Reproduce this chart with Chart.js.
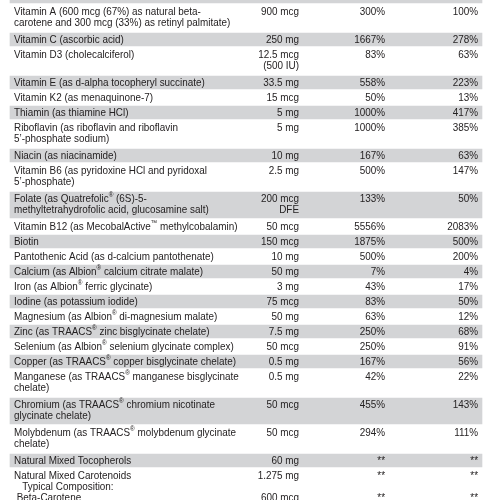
<!DOCTYPE html>
<html>
<head>
<meta charset="utf-8">
<script src="https://cdn.jsdelivr.net/npm/chart.js@4/dist/chart.umd.min.js"></script>
<style>
  html, body { margin: 0; padding: 0; background: #fff; }
  #wrap { width: 500px; height: 500px; position: relative; }
</style>
</head>
<body>
<div id="wrap"><canvas id="facts"></canvas></div>
<script>
// rows of the supplement facts panel (first row = header, cut off at the top)
const nutrients = [
  '',
  'Vitamin A (600 mcg (67%) as natural beta-\ncarotene and 300 mcg (33%) as retinyl palmitate)',
  'Vitamin C (ascorbic acid)',
  'Vitamin D3 (cholecalciferol)',
  'Vitamin E (as d-alpha tocopheryl succinate)',
  'Vitamin K2 (as menaquinone-7)',
  'Thiamin (as thiamine HCl)',
  'Riboflavin (as riboflavin and riboflavin\n5’-phosphate sodium)',
  'Niacin (as niacinamide)',
  'Vitamin B6 (as pyridoxine HCl and pyridoxal\n5’-phosphate)',
  'Folate (as Quatrefolic® (6S)-5-\nmethyltetrahydrofolic acid, glucosamine salt)',
  'Vitamin B12 (as MecobalActive™ methylcobalamin)',
  'Biotin',
  'Pantothenic Acid (as d-calcium pantothenate)',
  'Calcium (as Albion® calcium citrate malate)',
  'Iron (as Albion® ferric glycinate)',
  'Iodine (as potassium iodide)',
  'Magnesium (as Albion® di-magnesium malate)',
  'Zinc (as TRAACS® zinc bisglycinate chelate)',
  'Selenium (as Albion® selenium glycinate complex)',
  'Copper (as TRAACS® copper bisglycinate chelate)',
  'Manganese (as TRAACS® manganese bisglycinate\nchelate)',
  'Chromium (as TRAACS® chromium nicotinate\nglycinate chelate)',
  'Molybdenum (as TRAACS® molybdenum glycinate\nchelate)',
  'Natural Mixed Tocopherols',
  'Natural Mixed Carotenoids\n   Typical Composition:\n Beta-Carotene'
];
const amounts = [
  '', '900 mcg', '250 mg', '12.5 mcg\n(500 IU)', '33.5 mg', '15 mcg', '5 mg', '5 mg',
  '10 mg', '2.5 mg', '200 mcg\nDFE', '50 mcg', '150 mcg', '10 mg', '50 mg', '3 mg',
  '75 mcg', '50 mg', '7.5 mg', '50 mcg', '0.5 mg', '0.5 mg', '50 mcg', '50 mcg',
  '60 mg', '1.275 mg\n\n600 mcg'
];
const dvAdults = [
  '', '300%', '1667%', '83%', '558%', '50%', '1000%', '1000%',
  '167%', '500%', '133%', '5556%', '1875%', '500%', '7%', '43%',
  '83%', '63%', '250%', '250%', '167%', '42%', '455%', '294%',
  '**', '**\n\n**'
];
const dvChildren = [
  '', '100%', '278%', '63%', '223%', '13%', '417%', '385%',
  '63%', '147%', '50%', '2083%', '500%', '200%', '4%', '17%',
  '50%', '12%', '68%', '91%', '56%', '22%', '143%', '111%',
  '**', '**\n\n**'
];

const LINE = 13, PAD = 2;          // row height per text line + padding
const TEXT_FIRST = 7.5, TEXT_STEP = 11;
const VIEW_TOP = 11, VIEW_H = 500;
const X_BAND = [2, 96.4];
const X_NAME = 2.8, X_AMOUNT = 59.8, X_DV1 = 77, X_DV2 = 95.6;
const GRAY = '#d3d4d6';
const INK = '#252223';
const FONT = '11px "Liberation Sans", Arial, sans-serif';
const FONT_SUP = '7px "Liberation Sans", Arial, sans-serif';
const SQUEEZE = 0.9;

const split = s => s.split('\n');
const rowLines = nutrients.map((n, i) => Math.max(
  split(n).length, split(amounts[i]).length, split(dvAdults[i]).length, split(dvChildren[i]).length));
const rowTop = [];
let acc = 0;
rowLines.forEach(n => { rowTop.push(acc); acc += n * LINE + PAD; });

// shaded rows alternate, grouped by height so each set gets its own bar thickness
const bands = {};
rowLines.forEach((n, i) => {
  if (i % 2 !== 0) return;
  (bands[n] = bands[n] || []).push({ y: rowTop[i] + (n * LINE + PAD) / 2, x: X_BAND });
});
const datasets = Object.keys(bands).map(n => ({
  data: bands[n],
  backgroundColor: GRAY,
  borderWidth: 0,
  barThickness: n * LINE + PAD - 2,
  stack: 'rows'
}));

function drawRich(ctx, text, x, y, align) {
  const parts = text.split(/([®™])/).filter(p => p !== '');
  ctx.save();
  ctx.translate(x, y);
  ctx.scale(SQUEEZE, 1);
  let w = 0;
  parts.forEach(p => {
    ctx.font = (p === '®' || p === '™') ? FONT_SUP : FONT;
    w += ctx.measureText(p).width;
  });
  let cx = align === 'right' ? -w : 0;
  ctx.textAlign = 'left';
  ctx.textBaseline = 'middle';
  parts.forEach(p => {
    const sup = p === '®' || p === '™';
    ctx.font = sup ? FONT_SUP : FONT;
    ctx.fillText(p, cx, sup ? -3 : 0);
    cx += ctx.measureText(p).width;
  });
  ctx.restore();
}

const tableText = {
  id: 'tableText',
  afterDatasetsDraw(chart) {
    const ctx = chart.ctx;
    const xs = chart.scales.x, ys = chart.scales.y;
    ctx.save();
    ctx.fillStyle = INK;
    const cols = [
      [nutrients, X_NAME, 'left'],
      [amounts, X_AMOUNT, 'right'],
      [dvAdults, X_DV1, 'right'],
      [dvChildren, X_DV2, 'right']
    ];
    nutrients.forEach((_, i) => {
      cols.forEach(([arr, xv, align]) => {
        split(arr[i]).forEach((line, j) => {
          if (!line) return;
          const py = ys.getPixelForValue(rowTop[i] + TEXT_FIRST + j * TEXT_STEP);
          drawRich(ctx, line, xs.getPixelForValue(xv), py, align);
        });
      });
    });
    ctx.restore();
  }
};

new Chart(document.getElementById('facts'), {
  type: 'bar',
  data: { datasets },
  options: {
    indexAxis: 'y',
    responsive: true,
    maintainAspectRatio: false,
    animation: false,
    layout: { padding: 0 },
    plugins: { legend: { display: false }, tooltip: { enabled: false } },
    scales: {
      x: { type: 'linear', min: 0, max: 100, display: false, stacked: false, offset: false },
      y: { type: 'linear', min: VIEW_TOP, max: VIEW_TOP + VIEW_H, reverse: true, display: false, offset: false }
    }
  },
  plugins: [tableText]
});
</script>
</body>
</html>
